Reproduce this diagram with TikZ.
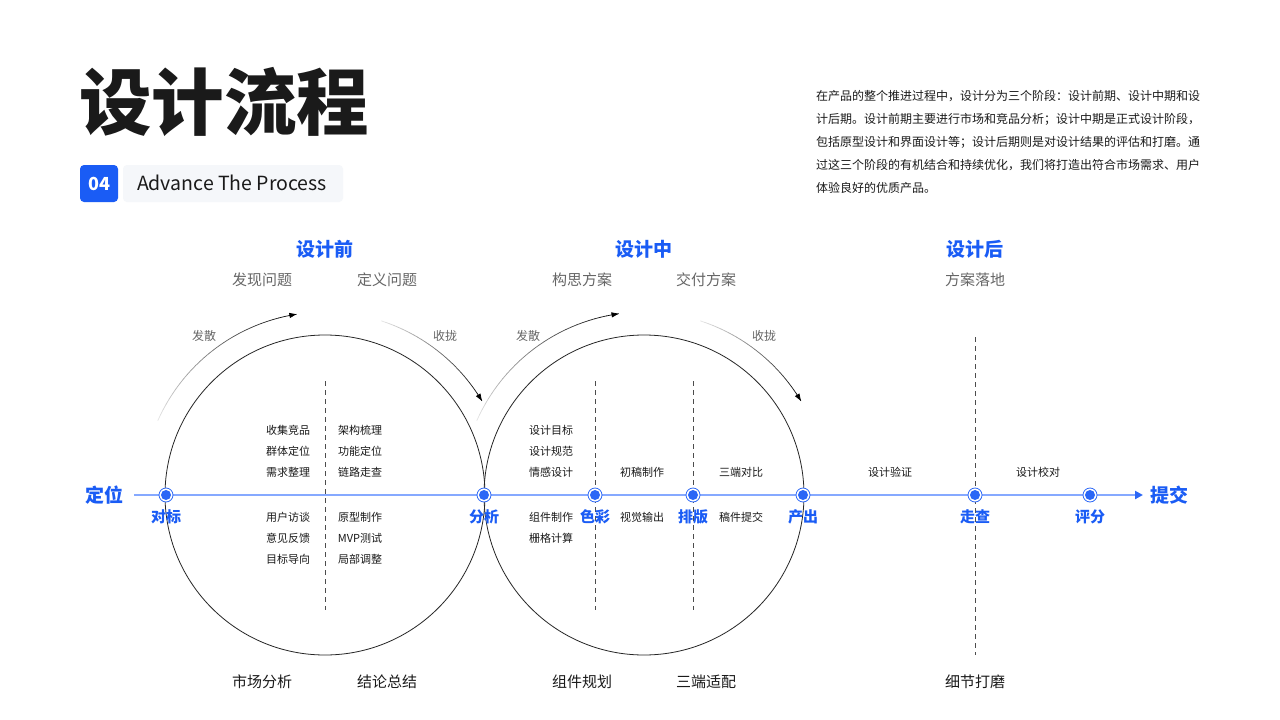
\documentclass[tikz,border=0pt]{standalone}
\usepackage{fontspec}
\setmainfont{Noto Sans CJK SC}
\usetikzlibrary{arrows.meta}
\definecolor{mainblue}{HTML}{1A5CF5}
\definecolor{axisblue}{HTML}{86A9FF}
\definecolor{dotblue}{HTML}{2B67F6}
\definecolor{txtdark}{HTML}{1A1A1A}
\definecolor{txtgray}{HTML}{666666}
\definecolor{badgegray}{HTML}{F5F7FA}
\newcommand\myfs[1]{\fontsize{#1pt}{#1pt}\selectfont}
\newcommand\fadearc[5]{%
  \foreach \i in {0,...,29}{%
    \pgfmathsetmacro\aa{#4+(#5-#4)*\i/30}%
    \pgfmathsetmacro\ab{#4+(#5-#4)*(\i+1)/30}%
    \pgfmathtruncatemacro\cc{8+92*(\i+1)/30}%
    \draw[black!\cc, line width=0.7pt, line cap=round] ({#1+#3*cos(\aa)},{#2-#3*sin(\aa)}) -- ({#1+#3*cos(\ab)},{#2-#3*sin(\ab)});
  }%
  \pgfmathsetmacro\ae{#5-(#5-#4)/30}%
  \draw[black, line width=0.7pt, -{Triangle[length=7pt,width=5pt]}] ({#1+#3*cos(\ae)},{#2-#3*sin(\ae)}) -- ({#1+#3*cos(#5)},{#2-#3*sin(#5)});
}
\begin{document}
\begin{tikzpicture}[x=1pt,y=-1pt,
  every node/.style={inner sep=0pt, outer sep=0pt},
  hdr/.style={text=mainblue, font=\myfs{19}\bfseries},
  sub/.style={text=txtgray, font=\myfs{15}},
  bot/.style={text=txtdark, font=\myfs{15}},
  inner/.style={text=txtdark, font=\myfs{11}},
  tag/.style={text=txtgray, font=\myfs{12}},
  lbl/.style={text=mainblue, font=\myfs{15}\bfseries},
  big/.style={text=mainblue, font=\myfs{19}\bfseries},
  para/.style={text=txtdark, font=\myfs{12}, anchor=west},
  ring/.style={draw=black!85, line width=0.8pt},
  vdash/.style={draw=black!70, line width=1pt, dash pattern=on 5pt off 4pt},
  dot/.style={circle, draw=dotblue, line width=0.8pt, fill=white, minimum size=14pt, path picture={\fill[dotblue] (path picture bounding box.center) circle (5pt);}},
  axis/.style={draw=axisblue, line width=2pt, -{Triangle[length=8pt,width=8pt,color=dotblue]}},
]
\useasboundingbox[fill=white] (0,0) rectangle (1280,720);

% title
\node[anchor=west, text=txtdark, font=\myfs{72.5}\bfseries] (title) at (79,102) {设计流程};
\node[fill=mainblue, rounded corners=4pt, minimum width=38pt, minimum height=37pt] (badge) at (99,183.5) {\textcolor{white}{\myfs{18}\bfseries 04}};
\node[fill=badgegray, rounded corners=4pt, minimum width=220pt, minimum height=37pt, anchor=west] (tagbox) at (123,183.5) {};
\node[anchor=west, text=txtdark, font=\myfs{19.5}] (tagtxt) at (137,183) {Advance The Process};

% paragraph
\node[para] (p1) at (816,96) {在产品的整个推进过程中，设计分为三个阶段：设计前期、设计中期和设};
\node[para] (p2) at (816,119) {计后期。设计前期主要进行市场和竞品分析；设计中期是正式设计阶段，};
\node[para] (p3) at (816,142) {包括原型设计和界面设计等；设计后期则是对设计结果的评估和打磨。通};
\node[para] (p4) at (816,165) {过这三个阶段的有机结合和持续优化，我们将打造出符合市场需求、用户};
\node[para] (p5) at (816,188) {体验良好的优质产品。};

% headers
\node[hdr] (h1) at (325,249) {设计前};
\node[hdr] (h2) at (644,249) {设计中};
\node[hdr] (h3) at (975,249) {设计后};
\node[sub] (s1) at (262,280) {发现问题};
\node[sub] (s2) at (387,280) {定义问题};
\node[sub] (s3) at (582,280) {构思方案};
\node[sub] (s4) at (706,280) {交付方案};
\node[sub] (s5) at (975,280) {方案落地};

% bottom labels
\node[bot] (b1) at (262,682) {市场分析};
\node[bot] (b2) at (387,682) {结论总结};
\node[bot] (b3) at (582,682) {组件规划};
\node[bot] (b4) at (706,682) {三端适配};
\node[bot] (b5) at (975,682) {细节打磨};

% circles
\draw[ring] (325,495) circle (160);
\draw[ring] (644,495) circle (160);

% fading arcs
\fadearc{325}{495}{183}{156}{99}
\fadearc{325}{495}{183}{72}{31}
\fadearc{644}{495}{183}{156}{98}
\fadearc{644}{495}{183}{72}{31}
\node[tag] (t1) at (204,336) {发散};
\node[tag] (t2) at (445,336) {收拢};
\node[tag] (t3) at (528,336) {发散};
\node[tag] (t4) at (764,336) {收拢};

% dashed verticals
\coordinate (v1a) at (325,381); \coordinate (v1b) at (325,610);
\coordinate (v2a) at (595,381); \coordinate (v2b) at (595,610);
\coordinate (v3a) at (693,381); \coordinate (v3b) at (693,610);
\coordinate (v4a) at (975,337); \coordinate (v4b) at (975,655);
\draw[vdash] (v1a) -- (v1b);
\draw[vdash] (v2a) -- (v2b);
\draw[vdash] (v3a) -- (v3b);
\draw[vdash] (v4a) -- (v4b);

% inner texts
\node[inner] at (288,430) {收集竞品};
\node[inner] at (288,451) {群体定位};
\node[inner] at (288,472) {需求整理};
\node[inner] at (288,517) {用户访谈};
\node[inner] at (288,538) {意见反馈};
\node[inner] at (288,559) {目标导向};
\node[inner] at (360,430) {架构梳理};
\node[inner] at (360,451) {功能定位};
\node[inner] at (360,472) {链路走查};
\node[inner] at (360,517) {原型制作};
\node[inner] at (360,538) {MVP测试};
\node[inner] at (360,559) {局部调整};
\node[inner] at (551,430) {设计目标};
\node[inner] at (551,451) {设计规范};
\node[inner] at (551,472) {情感设计};
\node[inner] at (551,517) {组件制作};
\node[inner] at (551,538) {栅格计算};
\node[inner] at (642,472) {初稿制作};
\node[inner] at (642,517) {视觉输出};
\node[inner] at (741,472) {三端对比};
\node[inner] at (741,517) {稿件提交};
\node[inner] at (890,472) {设计验证};
\node[inner] at (1038,472) {设计校对};

% axis
\coordinate (axs) at (134,495);
\coordinate (axe) at (1143,495);
\draw[axis] (axs) -- (axe);
\node[big] (start) at (104,495) {定位};
\node[big] (end) at (1169,495) {提交};

\node[dot] (n1) at (166,495) {};
\node[dot] (n2) at (484,495) {};
\node[dot] (n3) at (595,495) {};
\node[dot] (n4) at (693,495) {};
\node[dot] (n5) at (803,495) {};
\node[dot] (n6) at (975,495) {};
\node[dot] (n7) at (1090,495) {};
\node[lbl] at (166,517) {对标};
\node[lbl] at (484,517) {分析};
\node[lbl] at (595,517) {色彩};
\node[lbl] at (693,517) {排版};
\node[lbl] at (803,517) {产出};
\node[lbl] at (975,517) {走查};
\node[lbl] at (1090,517) {评分};
\end{tikzpicture}
\end{document}
